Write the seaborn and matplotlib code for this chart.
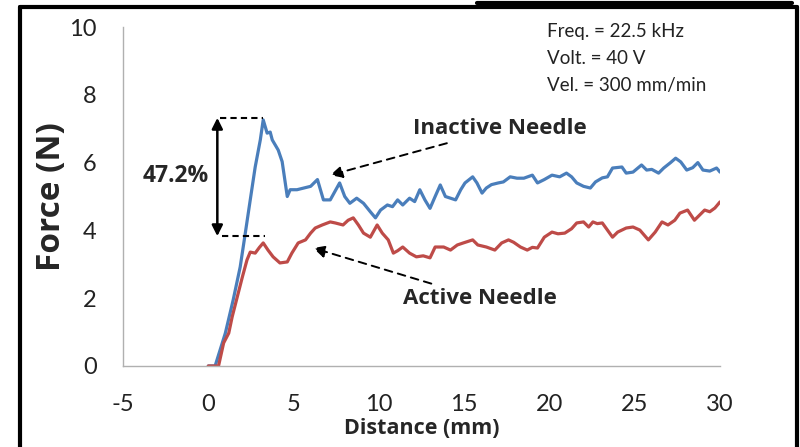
import numpy as np
import pandas as pd
import matplotlib
matplotlib.use("Agg")
import matplotlib.pyplot as plt
from matplotlib.lines import Line2D
import seaborn as sns

# inactive needle (blue)
inactive_x = [0, 0.4, 1.0, 1.46, 1.87, 2.17, 2.46, 2.75, 3.05, 3.22, 3.45, 3.63, 3.75, 4.1, 4.33,
              4.63, 4.8, 5.2, 5.6, 6.0, 6.4, 6.75, 7.15, 7.7, 8.0, 8.3, 8.7, 9.1, 9.5, 9.8, 10.1,
              10.5, 10.8, 11.1, 11.4, 11.8, 12.1, 12.4, 12.7, 13.0, 13.3, 13.6, 13.9, 14.2, 14.5,
              14.8, 15.05, 15.5, 15.75, 16.05, 16.3, 16.6, 17.0, 17.3, 17.7, 18.1, 18.5, 19.0,
              19.3, 19.7, 20.15, 20.6, 21.0, 21.3, 21.6, 22.0, 22.4, 22.7, 23.1, 23.4, 23.7,
              24.25, 24.5, 24.9, 25.4, 25.7, 26.0, 26.4, 26.7, 27.1, 27.4, 27.7, 28.05, 28.4,
              28.7, 29.0, 29.4, 29.8, 30.0]
inactive_y = [0, 0, 0.97, 1.95, 2.92, 3.92, 4.9, 5.87, 6.67, 7.26, 6.87, 6.9, 6.67, 6.37, 6.03,
              5.0, 5.2, 5.2, 5.25, 5.3, 5.5, 4.9, 4.9, 5.4, 5.0, 4.8, 4.95, 4.8, 4.55, 4.37, 4.6,
              4.75, 4.7, 4.9, 4.75, 4.95, 4.85, 5.2, 4.9, 4.65, 5.0, 5.34, 5.0, 4.95, 4.9,
              5.2, 5.4, 5.58, 5.4, 5.1, 5.25, 5.35, 5.4, 5.43, 5.58, 5.54, 5.54, 5.63,
              5.4, 5.5, 5.63, 5.58, 5.69, 5.58, 5.4, 5.3, 5.25, 5.43, 5.55, 5.58, 5.84,
              5.87, 5.69, 5.72, 5.93, 5.78, 5.8, 5.69, 5.84, 6.0, 6.13, 6.02, 5.78, 5.85,
              6.0, 5.78, 5.75, 5.84, 5.72]

# active needle (red)
active_x = [0, 0.6, 0.9, 1.2, 1.4, 1.7, 2.0, 2.27, 2.46, 2.75, 3.0, 3.22, 3.5, 3.8, 4.2, 4.63,
            4.9, 5.27, 5.7, 6.0, 6.27, 6.68, 7.15, 7.44, 7.9, 8.2, 8.5, 8.8, 9.1, 9.5, 9.9,
            10.2, 10.55, 10.85, 11.1, 11.4, 11.8, 12.2, 12.6, 13.0, 13.3, 13.8, 14.2, 14.6,
            14.95, 15.5, 15.8, 16.3, 16.8, 17.2, 17.6, 17.9, 18.3, 18.7, 19.0, 19.3, 19.7,
            20.15, 20.5, 20.9, 21.3, 21.6, 22.0, 22.3, 22.55, 22.8, 23.1, 23.4, 23.7, 24.0,
            24.5, 24.9, 25.3, 25.8, 26.2, 26.6, 26.95, 27.35, 27.65, 28.1, 28.5, 28.8, 29.1,
            29.4, 29.7, 30.0]
active_y = [0, 0, 0.68, 0.97, 1.45, 2.04, 2.63, 3.13, 3.36, 3.33, 3.5, 3.63, 3.42, 3.22, 3.04,
            3.07, 3.33, 3.63, 3.72, 3.92, 4.07, 4.16, 4.25, 4.22, 4.16, 4.3, 4.37, 4.16, 3.92,
            3.8, 4.16, 3.92, 3.72, 3.33, 3.4, 3.51, 3.33, 3.22, 3.25, 3.19, 3.51, 3.51, 3.42,
            3.57, 3.63, 3.72, 3.57, 3.51, 3.42, 3.63, 3.72, 3.65, 3.51, 3.42, 3.5, 3.48, 3.8,
            3.95, 3.9, 3.92, 4.05, 4.22, 4.25, 4.1, 4.25, 4.2, 4.22, 4.01, 3.8, 3.95,
            4.07, 4.1, 4.01, 3.72, 3.95, 4.25, 4.16, 4.3, 4.51, 4.6, 4.3, 4.45, 4.6,
            4.55, 4.66, 4.84]

x_ticks = [-5, 0, 5, 10, 15, 20, 25, 30]
y_ticks = [0, 2, 4, 6, 8, 10]
params = ["Freq. = 22.5 kHz", "Volt. = 40 V", "Vel. = 300 mm/min"]
peak_drop = "47.2%"

df = pd.concat([
    pd.DataFrame({"Distance": inactive_x, "Force": inactive_y, "needle": "Inactive Needle"}),
    pd.DataFrame({"Distance": active_x, "Force": active_y, "needle": "Active Needle"}),
])

sns.set_style("white")
plt.rcParams["font.family"] = ["Lato", "DejaVu Sans"]
plt.rcParams["axes.unicode_minus"] = False

W, H = 800, 447
fig = plt.figure(figsize=(8, 4.47), dpi=100)
ax = fig.add_axes([123 / W, 1 - 366 / H, (720 - 123) / W, (366 - 27) / H])

sns.lineplot(data=df, x="Distance", y="Force", hue="needle", estimator=None, sort=False,
             palette={"Inactive Needle": "#4A7EBB", "Active Needle": "#BE4B48"},
             linewidth=2.3, legend=False, ax=ax)

ax.set_xlim(-5, 30)
ax.set_ylim(0, 10)
ax.set_xticks(x_ticks)
ax.set_yticks(y_ticks)
ax.tick_params(axis="both", labelsize=17, colors="#B0B0B0", labelcolor="#222222",
               length=8, width=1, direction="out")
ax.tick_params(axis="x", pad=12)
ax.tick_params(axis="y", pad=11)
for s in ["top", "right"]:
    ax.spines[s].set_visible(False)
for s in ["left", "bottom"]:
    ax.spines[s].set_color("#B0B0B0")
    ax.spines[s].set_linewidth(1)

bold = ["Open Sans", "DejaVu Sans"]
ax.set_xlabel("Distance (mm)", fontsize=15.5, fontweight="bold", family=bold, labelpad=2)
ax.set_ylabel("Force (N)", fontsize=24, fontweight="bold", family=bold, labelpad=1)

# condition box text
for i, t in enumerate(params):
    ax.text(547 / W, 1 - (31 + 27.5 * i) / H, t, transform=fig.transFigure,
            fontsize=13.5, va="center", ha="left", color="#222222")

# peak drop markers
ax.plot([0.7, 3.2], [7.32, 7.32], ls=(0, (3, 2)), color="black", lw=1.5)
ax.plot([0.8, 3.3], [3.83, 3.83], ls=(0, (3, 2)), color="black", lw=1.5)
ax.annotate("", xy=(0.53, 7.32), xytext=(0.53, 3.83),
            arrowprops=dict(arrowstyle="<|-|>", color="black", lw=1.8,
                            mutation_scale=16, shrinkA=0, shrinkB=0))
ax.text(-1.9, 5.6, peak_drop, fontsize=16.5, fontweight="bold", family=bold,
        ha="center", va="center")

# line labels with dashed arrows
ax.annotate("Inactive Needle", xy=(7.15, 5.63), xytext=(12.0, 7.0),
            fontsize=16, fontweight="bold", family=bold, ha="left", va="center",
            arrowprops=dict(arrowstyle="-|>", ls=(0, (4, 3)), color="black", lw=1.4,
                            mutation_scale=18, shrinkA=2, shrinkB=0))
ax.annotate("Active Needle", xy=(6.15, 3.48), xytext=(11.4, 2.0),
            fontsize=16, fontweight="bold", family=bold, ha="left", va="center",
            arrowprops=dict(arrowstyle="-|>", ls=(0, (4, 3)), color="black", lw=1.4,
                            mutation_scale=18, shrinkA=2, shrinkB=0))

# outer frame lines
def px_line(xs, ys, lw=3):
    fig.add_artist(Line2D([x / W for x in xs], [1 - y / H for y in ys],
                          transform=fig.transFigure, color="black", lw=lw))

px_line([20, 20], [7, 447])
px_line([20, 797], [7, 7])
px_line([797, 797], [7, 447])
px_line([477, 792], [3, 3], lw=3)

fig.savefig("out.png", dpi=100)
